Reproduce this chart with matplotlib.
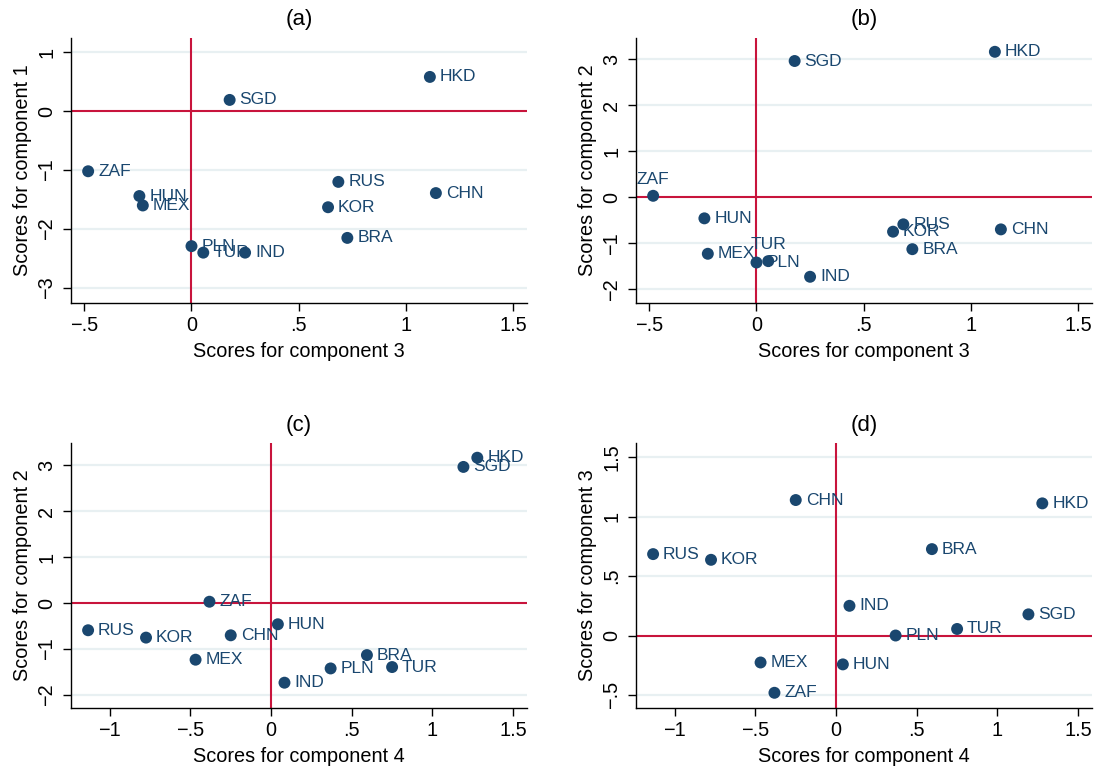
import matplotlib
matplotlib.use("Agg")
import matplotlib.pyplot as plt

# -------------------------------------------------
# Data (PCA scores by country)
# -------------------------------------------------

countries = ["BRA", "CHN", "HKD", "HUN", "IND", "KOR", "MEX", "PLN", "RUS", "SGD", "TUR", "ZAF"]

comp1 = [-2.15, -1.39, 0.58, -1.44, -2.40, -1.63, -1.60, -2.29, -1.20, 0.19, -2.40, -1.02]
comp2 = [-1.13, -0.70, 3.16, -0.46, -1.73, -0.75, -1.23, -1.42, -0.59, 2.96, -1.39, 0.03]
comp3 = [0.727, 1.140, 1.112, -0.243, 0.250, 0.637, -0.227, 0.0, 0.685, 0.178, 0.055, -0.482]
comp4 = [0.594, -0.250, 1.278, 0.042, 0.083, -0.775, -0.468, 0.369, -1.134, 1.192, 0.750, -0.382]

# labels placed above the marker instead of to the right (panel b)
labels_above_b = ["ZAF", "TUR"]

ticks_c3 = [-0.5, 0, 0.5, 1, 1.5]
ticks_c4 = [-1, -0.5, 0, 0.5, 1, 1.5]
ticks_c1 = [-3, -2, -1, 0, 1]
ticks_c2 = [-2, -1, 0, 1, 2, 3]
ticks_c3y = [-0.5, 0, 0.5, 1, 1.5]

# -------------------------------------------------
# Style
# -------------------------------------------------

plt.rcParams["font.family"] = ["Liberation Sans", "DejaVu Sans"]

NAVY = "#1a476f"
RED = "#c8143c"
GRID = "#e8f0f2"

W, H = 1097, 768


def fmt(v):
    if v == 0:
        return "0"
    s = ("%g" % abs(v))
    if s.startswith("0."):
        s = s[1:]
    return ("\u2212" if v < 0 else "") + s


def panel(box, x, y, xlim, ylim, xticks, yticks, xlabel, ylabel, title, above=()):
    left, top, right, bottom = box
    ax = fig.add_axes([left / W, 1 - bottom / H, (right - left) / W, (bottom - top) / H])

    for t in yticks:
        if t != 0:
            ax.axhline(t, color=GRID, lw=1.6, zorder=0)
    ax.axhline(0, color=RED, lw=1.5, zorder=1)
    ax.axvline(0, color=RED, lw=1.5, zorder=1)

    for name, xv, yv in zip(countries, x, y):
        if name in above:
            ax.annotate(name, (xv, yv), xytext=(0, 9), textcoords="offset pixels",
                        ha="center", va="bottom", color=NAVY, fontsize=12.5, zorder=2)
        else:
            ax.annotate(name, (xv, yv), xytext=(10, 0), textcoords="offset pixels",
                        ha="left", va="center", color=NAVY, fontsize=12.5, zorder=2)
    ax.scatter(x, y, s=74, color=NAVY, edgecolor="none", zorder=3, clip_on=False)

    ax.set_xlim(xlim)
    ax.set_ylim(ylim)
    ax.set_xticks(xticks)
    ax.set_xticklabels([fmt(v) for v in xticks])
    ax.set_yticks(yticks)
    ax.set_yticklabels([fmt(v) for v in yticks], rotation=90, va="center")

    for s in ["top", "right"]:
        ax.spines[s].set_visible(False)
    for s in ["left", "bottom"]:
        ax.spines[s].set_linewidth(1.0)
    ax.tick_params(direction="out", length=6, width=1.0, labelsize=14.3)
    ax.tick_params(axis="x", pad=3.5)
    ax.tick_params(axis="y", pad=4.5)

    ax.set_xlabel(xlabel, fontsize=14.3, labelpad=5)
    ax.set_ylabel(ylabel, fontsize=14.3, labelpad=4)
    ax.annotate(title, (0.5, 1), xycoords="axes fraction", xytext=(0, 18),
                textcoords="offset pixels", ha="center", va="center", fontsize=16)
    return ax


fig = plt.figure(figsize=(W / 100, H / 100), dpi=100)

panel((71, 38, 527, 303), comp3, comp1, (-0.562, 1.565), (-3.254, 1.24),
      ticks_c3, ticks_c1, "Scores for component 3", "Scores for component 1", "(a)")
panel((636, 38, 1092, 303), comp3, comp2, (-0.562, 1.565), (-2.3, 3.46),
      ticks_c3, ticks_c2, "Scores for component 3", "Scores for component 2", "(b)",
      above=labels_above_b)
panel((71, 443, 527, 708), comp4, comp2, (-1.24, 1.586), (-2.28, 3.48),
      ticks_c4, ticks_c2, "Scores for component 4", "Scores for component 2", "(c)")
panel((636, 443, 1092, 708), comp4, comp3, (-1.24, 1.586), (-0.61, 1.62),
      ticks_c4, ticks_c3y, "Scores for component 4", "Scores for component 3", "(d)")

fig.savefig("out.png", dpi=100, facecolor="white")
